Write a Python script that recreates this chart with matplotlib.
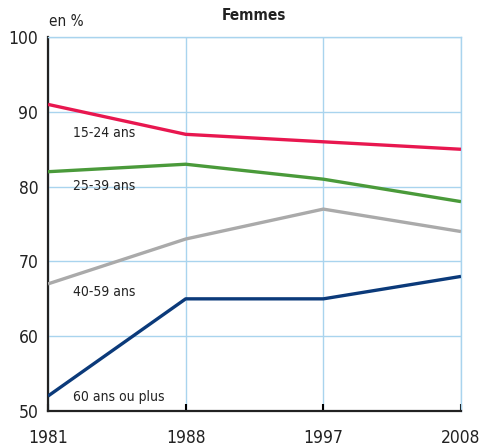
import matplotlib
matplotlib.use("Agg")
import matplotlib.pyplot as plt

years = ["1981", "1988", "1997", "2008"]
groups = ["15-24 ans", "25-39 ans", "40-59 ans", "60 ans ou plus"]
v_15_24 = [91, 87, 86, 85]
v_25_39 = [82, 83, 81, 78]
v_40_59 = [67, 73, 77, 74]
v_60 = [52, 65, 65, 68]
label_y = [87.2, 80.1, 65.9, 51.9]
colors = ["#e8174f", "#4a9a3a", "#aaaaaa", "#0b3a7a"]

plt.rcParams["font.family"] = "DejaVu Sans"
plt.rcParams["font.stretch"] = "condensed"

fig = plt.figure(figsize=(4.85, 4.47), dpi=100)
ax = fig.add_axes([0.099, 0.0805, 0.8515, 0.8365])

x = list(range(len(years)))
series = [v_15_24, v_25_39, v_40_59, v_60]
for vals, c in zip(series, colors):
    ax.plot(x, vals, color=c, lw=2.4, solid_capstyle="butt", zorder=3)
for name, ly in zip(groups, label_y):
    ax.text(0.18, ly, name, fontsize=10, color="#222222", va="center", ha="left")

ax.set_xlim(0, 3)
ax.set_ylim(50, 100)
ax.set_xticks(x)
ax.set_xticklabels(years)
ax.set_yticks([50, 60, 70, 80, 90, 100])
ax.grid(True, color="#a9d4ee", lw=1.0)
ax.set_axisbelow(True)
ax.tick_params(axis="y", length=0, labelsize=12.5, pad=7, labelcolor="#222222")
ax.tick_params(axis="x", direction="in", length=5, width=1.5, labelsize=12.5, pad=13, labelcolor="#222222")
for s in ["top", "right"]:
    ax.spines[s].set_color("#a9d4ee")
    ax.spines[s].set_linewidth(1.0)
for s in ["left", "bottom"]:
    ax.spines[s].set_color("#222222")
    ax.spines[s].set_linewidth(1.6)

fig.text(0.524, 0.965, "Femmes", fontsize=11, fontweight="bold", ha="center", va="center", color="#222222")
fig.text(0.101, 0.951, "en %", fontsize=11, ha="left", va="center", color="#222222")

fig.savefig("out.png", dpi=100)
